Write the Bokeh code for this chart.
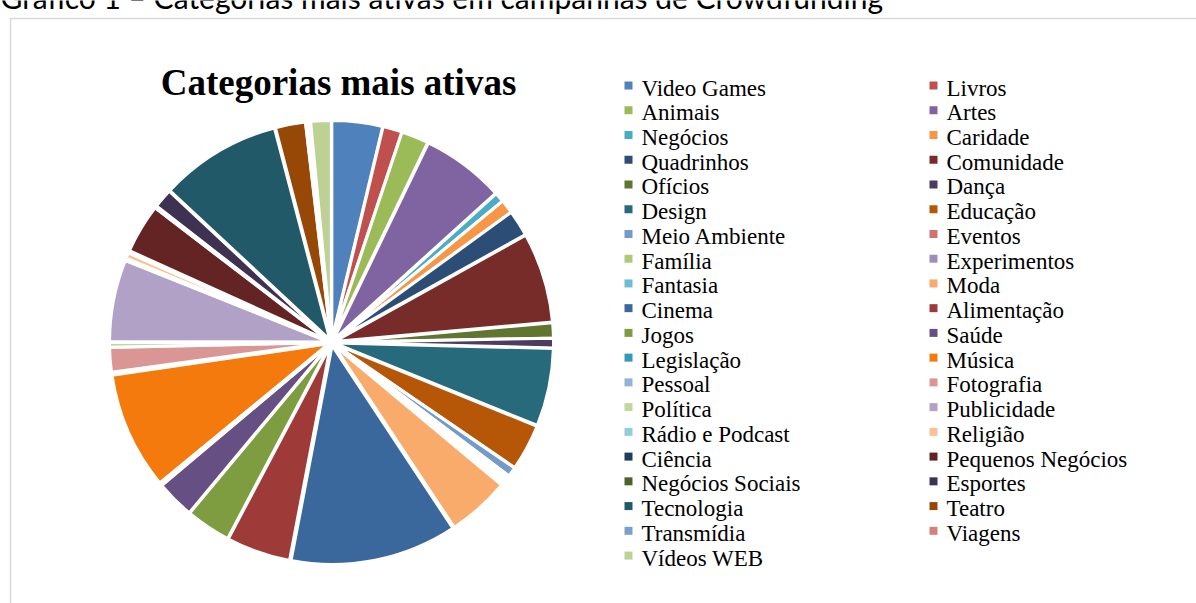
import math
from bokeh.plotting import figure
from bokeh.models import Range1d, ColumnDataSource
from bokeh.core.properties import value
from bokeh.embed import file_html
from bokeh.resources import INLINE

categories = ["Video Games", "Livros", "Animais", "Artes", "Negócios", "Caridade",
              "Quadrinhos", "Comunidade", "Ofícios", "Dança", "Design", "Educação",
              "Meio Ambiente", "Eventos", "Família", "Experimentos", "Fantasia", "Moda",
              "Cinema", "Alimentação", "Jogos", "Saúde", "Legislação", "Música",
              "Pessoal", "Fotografia", "Política", "Publicidade", "Rádio e Podcast",
              "Religião", "Ciência", "Pequenos Negócios", "Negócios Sociais", "Esportes",
              "Tecnologia", "Teatro", "Transmídia", "Viagens", "Vídeos WEB"]

# percentage share
shares = [3.7, 1.4, 2.0, 6.1, 0.7, 1.0,
          1.9, 6.6, 1.1, 0.7, 5.7, 3.4,
          0.7, 0.2, 0.2, 0.2, 0.2, 4.6,
          12.2, 4.7, 3.3, 2.8, 0.15, 8.6,
          0.15, 1.8, 0.35, 6.0, 0.15,
          0.4, 0.15, 3.6, 0.15, 1.4,
          8.9, 2.2, 0.2, 0.15, 1.5]

colors = ["#4F81BD", "#C0504D", "#9BBB59", "#8064A2", "#4BACC6", "#F79646",
          "#2C4D75", "#772C2A", "#5F7530", "#4D3B62", "#276A7C", "#B65708",
          "#729ACA", "#CD7371", "#AFC97A", "#A08BB9", "#6FBDD1", "#F9AB6B",
          "#3A679C", "#9E3B38", "#7E9D40", "#664F83", "#359AB5", "#F47A0D",
          "#95B3D7", "#D99694", "#C3D69B", "#B2A1C7", "#93CDDD",
          "#FAC090", "#203D5F", "#632423", "#4F6228", "#3F3151",
          "#215968", "#974806", "#7BA0CD", "#D6807E", "#BDD195"]

chart_title = "Categorias mais ativas"
page_heading = "Gráfico 1 – Categorias mais ativas em campanhas de Crowdfunding"

W, H = 1196, 603
p = figure(width=W, height=H, x_range=Range1d(0, W), y_range=Range1d(0, H),
           output_backend="svg", toolbar_location=None, min_border=0)
p.axis.visible = False
p.grid.visible = False
p.outline_line_color = None
p.background_fill_color = "white"
p.border_fill_color = "white"

# frame of the chart area
p.quad(left=[10], right=[W + 5], top=[H - 18], bottom=[-5],
       fill_color=None, line_color="#D9D9D9", line_width=1.5)

# page heading (cut at top)
p.text(x=[0], y=[H + 4], text=[page_heading], text_font=value("Lato"),
       text_font_size="30px", text_color="#000000", text_baseline="middle")

# pie
cx, cy, r, explode = 331, H - 342, 219, 3
total = sum(shares)
starts, ends, xs, ys = [], [], [], []
acc = 0.0
for s in shares:
    a0 = acc / total * 2 * math.pi
    acc += s
    a1 = acc / total * 2 * math.pi
    mid = (a0 + a1) / 2
    starts.append(math.pi / 2 - a0)
    ends.append(math.pi / 2 - a1)
    xs.append(cx + explode * math.sin(mid))
    ys.append(cy + explode * math.cos(mid))

src = ColumnDataSource(dict(x=xs, y=ys, start=starts, end=ends, color=colors))
p.wedge(x="x", y="y", radius=r, start_angle="start", end_angle="end",
        direction="clock", fill_color="color", line_color="white",
        line_width=3, source=src)

# chart title
p.text(x=[338], y=[H - 82], text=[chart_title], text_font=value("Liberation Serif"),
       text_font_style="bold", text_font_size="37px", text_align="center",
       text_baseline="middle", text_color="#000000")

# legend in two columns, row-wise
lx, ly = [], []
mx, my = [], []
row_h = 24.74
for i, c in enumerate(categories):
    row, col = divmod(i, 2)
    mid_y = 87.5 + row * row_h
    tx = 641 if col == 0 else 946
    lx.append(tx)
    ly.append(H - mid_y)
    mx.append(tx - 13)
    my.append(H - (mid_y - 2.5))

p.rect(x=mx, y=my, width=8, height=8, fill_color=colors, line_color=None)
p.text(x=lx, y=ly, text=categories, text_font=value("Liberation Serif"),
       text_font_size="23px", text_color="#000000", text_baseline="middle")

open("out.html", "w").write(file_html(p, INLINE))
